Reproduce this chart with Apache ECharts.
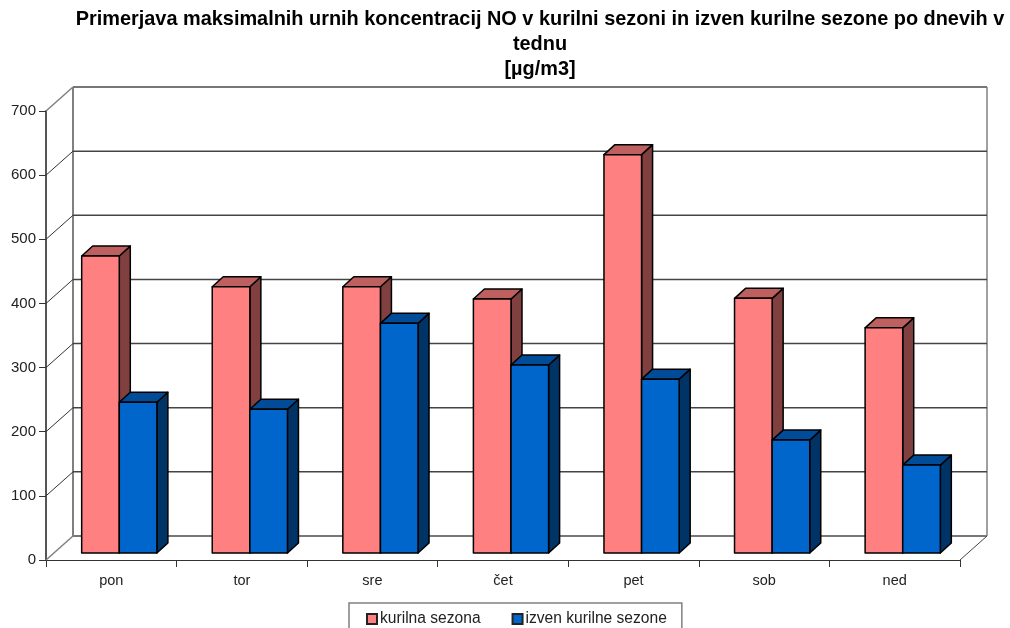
<!DOCTYPE html>
<html>
<head>
<meta charset="utf-8">
<style>html,body{margin:0;padding:0;background:#fff;overflow:hidden}#c{width:1010px;height:628px}</style>
<script src="https://cdn.jsdelivr.net/npm/echarts@6/dist/echarts.min.js"></script>
</head>
<body>
<div id="c"></div>
<script>
const titleText = 'Primerjava maksimalnih urnih koncentracij NO v kurilni sezoni in izven kurilne sezone po dnevih v\ntednu\n[µg/m3]';
const days = ['pon', 'tor', 'sre', 'čet', 'pet', 'sob', 'ned'];
const seriesNames = ['kurilna sezona', 'izven kurilne sezone'];
const heating = [463, 415, 415, 396, 621, 397, 351];
const nonHeating = [235, 224, 358, 293, 271, 176, 137];
const yTicks = [0, 100, 200, 300, 400, 500, 600, 700];

const FONT = '"Liberation Sans", Arial, sans-serif';
const WALL_DX = 27, WALL_DY = -24;
const BAR_DX = 8, BAR_DY = -7, DEPTH_DX = 11, DEPTH_DY = -10;
const BAR_FRACTION = 0.288;
const LINE = { stroke: '#000', lineWidth: 1.5, lineJoin: 'round' };

function wallItem(params, api) {
  const v = api.value(0);
  const cs = params.coordSys;
  const y = api.coord([0, v])[1];
  const x0 = cs.x, x1 = cs.x + cs.width;
  const bx0 = x0 + WALL_DX, bx1 = x1 + WALL_DX, by = y + WALL_DY;
  const edge = v === 0 || v === yTicks[yTicks.length - 1];
  const children = [
    { type: 'line', shape: { x1: x0, y1: y, x2: bx0, y2: by },
      style: { stroke: edge ? '#808080' : '#333', lineWidth: edge ? 1.5 : 1 } },
    { type: 'line', shape: { x1: bx0, y1: by, x2: bx1, y2: by },
      style: { stroke: edge ? '#777' : '#444', lineWidth: edge ? 2 : 1.5 } }
  ];
  if (v === 0) {
    const top = api.coord([0, yTicks[yTicks.length - 1]])[1] + WALL_DY;
    children.push(
      { type: 'line', shape: { x1: bx0, y1: by, x2: bx0, y2: top }, style: { stroke: '#808080', lineWidth: 2 } },
      { type: 'line', shape: { x1: bx1, y1: by, x2: bx1, y2: top }, style: { stroke: '#808080', lineWidth: 1.5 } },
      { type: 'line', shape: { x1: x1, y1: y, x2: bx1, y2: by }, style: { stroke: '#444', lineWidth: 1 } }
    );
  }
  return { type: 'group', children };
}

function barRenderer(seriesIndex, front, side, top) {
  return function (params, api) {
    const c = api.value(0);
    const base = api.coord([c, 0]);
    const head = api.coord([c, api.value(1)]);
    const w = api.size([1, 0])[0] * BAR_FRACTION;
    const x0 = base[0] + BAR_DX + (seriesIndex - 1) * w;
    const x1 = x0 + w;
    const yb = base[1] + BAR_DY;
    const yt = head[1] + BAR_DY;
    const poly = (points, fill) => ({
      type: 'polygon', shape: { points },
      style: Object.assign({ fill }, LINE)
    });
    return {
      type: 'group',
      children: [
        poly([[x1, yb], [x1 + DEPTH_DX, yb + DEPTH_DY], [x1 + DEPTH_DX, yt + DEPTH_DY], [x1, yt]], side),
        poly([[x0, yt], [x0 + DEPTH_DX, yt + DEPTH_DY], [x1 + DEPTH_DX, yt + DEPTH_DY], [x1, yt]], top),
        poly([[x0, yb], [x1, yb], [x1, yt], [x0, yt]], front)
      ]
    };
  };
}

const chart = echarts.init(document.getElementById('c'), null, { renderer: 'canvas' });
chart.setOption({
  animation: false,
  backgroundColor: '#fff',
  title: {
    text: titleText,
    left: 535,
    top: 2,
    textAlign: 'center',
    textStyle: { fontFamily: FONT, fontSize: 19.9, fontWeight: 'bold', color: '#000', lineHeight: 25 }
  },
  grid: { left: 46, right: 50, top: 111, bottom: 68, containLabel: false },
  legend: {
    data: seriesNames,
    left: 349,
    top: 603,
    orient: 'horizontal',
    padding: [8, 15, 30, 17],
    itemGap: 31,
    itemWidth: 10,
    itemHeight: 10,
    icon: 'rect',
    backgroundColor: '#fff',
    borderColor: '#808080',
    borderWidth: 1.5,
    borderRadius: 0,
    selectedMode: false,
    textStyle: { fontFamily: FONT, fontSize: 15.6, color: '#222', padding: [0, 0, 0, -2] }
  },
  xAxis: {
    type: 'category',
    data: days,
    boundaryGap: true,
    axisLine: { show: true, lineStyle: { color: '#333', width: 1 } },
    axisTick: { show: true, length: 7, alignWithLabel: false, lineStyle: { color: '#333', width: 1 } },
    axisLabel: { fontFamily: FONT, fontSize: 14.5, color: '#222', margin: 13, interval: 0 },
    splitLine: { show: false }
  },
  yAxis: {
    type: 'value',
    min: 0,
    max: 700,
    interval: 100,
    axisLine: { show: true, lineStyle: { color: '#555', width: 2 } },
    axisTick: { show: true, length: 7, lineStyle: { color: '#333', width: 1 } },
    axisLabel: { fontFamily: FONT, fontSize: 15, color: '#222', margin: 10 },
    splitLine: { show: false }
  },
  series: [
    {
      type: 'custom', name: 'walls', z: 1, silent: true, clip: false,
      data: yTicks.map(v => [v]),
      encode: { y: 0 },
      renderItem: wallItem
    },
    {
      type: 'custom', name: seriesNames[0], z: 2, clip: false,
      itemStyle: { color: '#FF8080', borderColor: '#222', borderWidth: 1.5 },
      data: heating.map((v, i) => [i, v]),
      encode: { x: 0, y: 1 },
      renderItem: barRenderer(0, '#FF8080', '#804040', '#BF6060')
    },
    {
      type: 'custom', name: seriesNames[1], z: 3, clip: false,
      itemStyle: { color: '#0066CC', borderColor: '#222', borderWidth: 1.5 },
      data: nonHeating.map((v, i) => [i, v]),
      encode: { x: 0, y: 1 },
      renderItem: barRenderer(1, '#0066CC', '#003366', '#004C99')
    }
  ]
});
</script>
</body>
</html>
